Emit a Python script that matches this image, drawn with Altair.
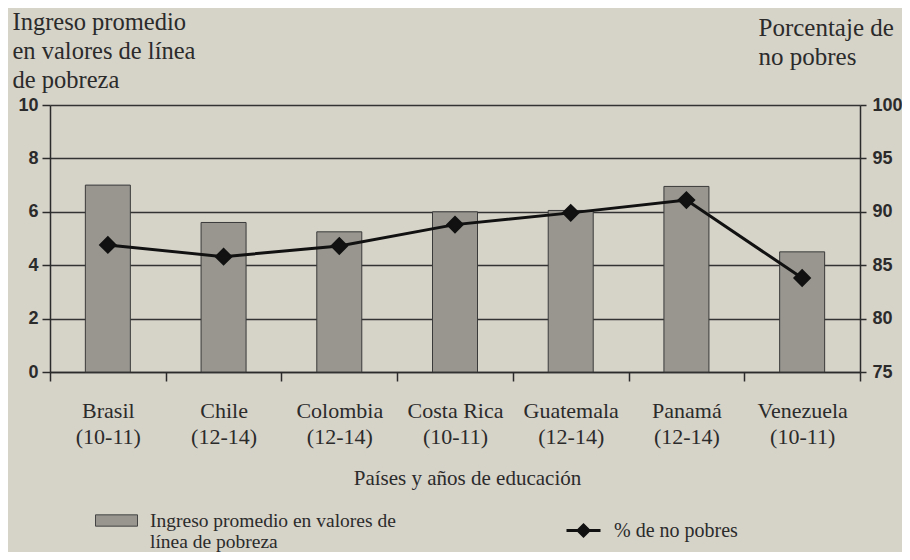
import altair as alt
import pandas as pd

paises = ["Brasil", "Chile", "Colombia", "Costa Rica", "Guatemala", "Panamá", "Venezuela"]
anios = ["(10-11)", "(12-14)", "(12-14)", "(10-11)", "(12-14)", "(12-14)", "(10-11)"]
ingreso = [7.0, 5.6, 5.25, 6.0, 6.05, 6.95, 4.5]
no_pobres = [86.9, 85.8, 86.8, 88.8, 89.9, 91.1, 83.8]

serie_barra = "Ingreso promedio en valores de|línea de pobreza"
serie_linea = "% de no pobres"

df = pd.DataFrame({
    "cat": [f"{p}|{a}" for p, a in zip(paises, anios)],
    "ingreso": ingreso,
    "no_pobres": no_pobres,
    "s1": serie_barra,
    "s2": serie_linea,
})

BG = "#d6d3c9"
INK = "#2b2b2b"
SERIF = "Liberation Serif"
SANS = "Liberation Sans"

x_enc = alt.X(
    "cat:N",
    sort=None,
    scale=alt.Scale(paddingInner=0, paddingOuter=0),
    axis=alt.Axis(
        title="Países y años de educación",
        titleFont=SERIF, titleFontSize=21, titleFontWeight="normal", titleColor=INK,
        titleX=417, titleY=95, titleBaseline="top",
        labelExpr="split(datum.label, '|')",
        labelFont=SERIF, labelFontSize=22, labelColor=INK, labelLineHeight=26,
        labelPadding=19, labelAngle=0,
        tickBand="extent", tickSize=9, tickColor=INK, tickWidth=1.5,
        domainColor=INK, domainWidth=1.5,
    ),
)

bars = alt.Chart(df).mark_bar(size=45, stroke="#3a3a3a", strokeWidth=1).encode(
    x=x_enc,
    y=alt.Y(
        "ingreso:Q",
        scale=alt.Scale(domain=[0, 10], nice=False),
        axis=alt.Axis(
            values=[0, 2, 4, 6, 8, 10],
            title=["Ingreso promedio", "en valores de línea", "de pobreza"],
            titleAngle=0, titleAlign="left", titleBaseline="top",
            titleX=-38, titleY=-95,
            titleFont=SERIF, titleFontSize=24.5, titleFontWeight="normal", titleColor=INK,
            titleLineHeight=29,
            labelFont=SANS, labelFontSize=18, labelFontWeight="bold", labelColor=INK,
            labelPadding=4, tickSize=8, tickColor=INK, tickWidth=1.5,
            domainColor=INK, domainWidth=1.5,
            grid=True, gridColor="#333333", gridWidth=1.5,
        ),
    ),
    fill=alt.Fill(
        "s1:N",
        scale=alt.Scale(domain=[serie_barra], range=["#98968f"]),
        legend=alt.Legend(
            title=None, orient="none", legendX=45, legendY=394,
            symbolType="M-1,-0.27H1V0.27H-1Z", symbolSize=1764,
            symbolStrokeColor="#444444", symbolStrokeWidth=1,
            labelExpr="split(datum.label, '|')",
            labelFont=SERIF, labelFontSize=19.5, labelColor=INK,
            labelOffset=12, labelLimit=400, padding=0,
        ),
    ),
)

line = alt.Chart(df).mark_line(
    strokeWidth=3,
    point=alt.OverlayMarkDef(shape="diamond", filled=True, size=240, color="#111111"),
).encode(
    x=alt.X("cat:N", sort=None),
    y=alt.Y(
        "no_pobres:Q",
        scale=alt.Scale(domain=[75, 100], nice=False),
        axis=alt.Axis(
            orient="right",
            values=[75, 80, 85, 90, 95, 100],
            title=["Porcentaje de", "no pobres"],
            titleAngle=0, titleAlign="left", titleBaseline="top",
            titleX=-102, titleY=-90,
            titleFont=SERIF, titleFontSize=25, titleFontWeight="normal", titleColor=INK,
            titleLineHeight=29,
            labelFont=SANS, labelFontSize=18, labelFontWeight="bold", labelColor=INK,
            labelPadding=6, tickSize=6, tickColor=INK, tickWidth=1.5,
            domainColor=INK, domainWidth=1.5,
            grid=False,
        ),
    ),
    stroke=alt.Stroke(
        "s2:N",
        scale=alt.Scale(domain=[serie_linea], range=["#111111"]),
        legend=alt.Legend(
            title=None, orient="none", legendX=515, legendY=407,
            symbolType="M-1,0H1M0,-0.32L0.32,0L0,0.32L-0.32,0Z", symbolSize=1156,
            symbolFillColor="#111111", symbolStrokeWidth=3,
            labelFont=SERIF, labelFontSize=20, labelColor=INK,
            labelOffset=12, labelLimit=300, padding=0,
        ),
    ),
)

chart = (
    alt.layer(bars, line)
    .resolve_scale(y="independent", fill="independent", stroke="independent")
    .properties(
        width=810, height=267,
        autosize=alt.AutoSizeParams(type="none"),
        padding={"left": 42, "top": 97, "right": 42, "bottom": 180},
        background=BG,
    )
    .configure_view(stroke=None)
)

chart.save("out.html", embed_options={"renderer": "svg", "actions": False})
